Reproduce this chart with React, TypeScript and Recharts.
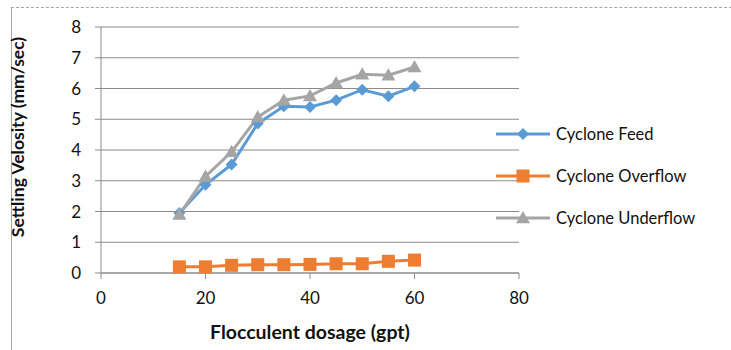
import { LineChart, Line, XAxis, YAxis, CartesianGrid } from 'recharts';

// flocculent dosage (gpt)
const dosage = [15, 20, 25, 30, 35, 40, 45, 50, 55, 60];
// settling velocity (mm/sec)
const cycloneFeed = [1.95, 2.87, 3.53, 4.86, 5.42, 5.4, 5.62, 5.96, 5.75, 6.07];
const cycloneOverflow = [0.2, 0.2, 0.25, 0.27, 0.27, 0.28, 0.3, 0.3, 0.38, 0.42];
const cycloneUnderflow = [1.9, 3.14, 3.94, 5.07, 5.62, 5.76, 6.18, 6.46, 6.43, 6.7];

const xTicks = [0, 20, 40, 60, 80];
const yTicks = [0, 1, 2, 3, 4, 5, 6, 7, 8];

const seriesNames = ['Cyclone Feed', 'Cyclone Overflow', 'Cyclone Underflow'];
const colors = ['#5B9BD5', '#ED7D31', '#A5A5A5'];

const data = dosage.map((d, i) => ({
  dosage: d,
  feed: cycloneFeed[i],
  overflow: cycloneOverflow[i],
  underflow: cycloneUnderflow[i],
}));

const FONT = 'Lato, "Open Sans", sans-serif';

const Marker = ({ kind, cx, cy, color }: any) => {
  if (cx == null || cy == null) return null;
  if (kind === 'diamond') {
    const r = 6;
    return (
      <polygon
        points={`${cx},${cy - r} ${cx + r},${cy} ${cx},${cy + r} ${cx - r},${cy}`}
        fill={color}
      />
    );
  }
  if (kind === 'square') {
    const s = 6.5;
    return <rect x={cx - s} y={cy - s} width={s * 2} height={s * 2} fill={color} />;
  }
  const r = 7;
  return (
    <polygon
      points={`${cx},${cy - r} ${cx + r},${cy + r * 0.75} ${cx - r},${cy + r * 0.75}`}
      fill={color}
    />
  );
};

const kinds = ['diamond', 'square', 'triangle'];

// 범례는 차트 밖에 직접 배치 (플롯 영역 위에 겹침)
const LegendBox = () => (
  <div
    style={{
      position: 'absolute',
      left: 494,
      top: 113,
      fontFamily: FONT,
      fontSize: 16.5,
      color: '#111',
    }}
  >
    {seriesNames.map((name, i) => (
      <div key={name} style={{ display: 'flex', alignItems: 'center', height: 42 }}>
        <svg width={62} height={16}>
          <line x1={2} y1={8} x2={56} y2={8} stroke={colors[i]} strokeWidth={3} />
          <Marker kind={kinds[i]} cx={29} cy={8} color={colors[i]} />
        </svg>
        <span>{name}</span>
      </div>
    ))}
  </div>
);

const App = () => {
  return (
    <div style={{ position: 'absolute', left: 0, top: 0, width: 731, height: 350, background: '#fff', overflow: 'hidden' }}>
      {/* frame */}
      <div
        style={{
          position: 'absolute',
          left: 11,
          top: 7,
          width: 730,
          height: 360,
          borderTop: '1px dashed #a6a6a6',
          borderLeft: '1px solid #a6a6a6',
        }}
      />
      <LineChart
        width={731}
        height={350}
        data={data}
        margin={{ top: 27, right: 212, bottom: 0, left: 0 }}
        style={{ position: 'absolute', left: 0, top: 0 }}
      >
        <CartesianGrid horizontal vertical={false} stroke='#8c8c8c' strokeWidth={1.2} />
        <XAxis
          dataKey='dosage'
          type='number'
          domain={[0, 80]}
          ticks={xTicks}
          height={77}
          stroke='#8c8c8c'
          tickSize={6}
          tickMargin={13}
          tick={{ fill: '#111', fontSize: 17, fontFamily: FONT }}
          label={{
            value: 'Flocculent dosage (gpt)',
            position: 'insideBottom',
            offset: 11,
            style: { fill: '#111', fontSize: 19.5, fontWeight: 'bold', fontFamily: FONT },
          }}
        />
        <YAxis
          type='number'
          domain={[0, 8]}
          ticks={yTicks}
          width={101}
          stroke='#8c8c8c'
          tickSize={6}
          tickMargin={14}
          tick={{ fill: '#111', fontSize: 17, fontFamily: FONT }}
          label={{
            value: 'Settling Velosity (mm/sec)',
            angle: -90,
            position: 'insideLeft',
            offset: 0,
            dx: 18,
            dy: -13,
            style: { fill: '#111', fontSize: 17.5, fontWeight: 'bold', fontFamily: FONT, textAnchor: 'middle' },
          }}
        />
        <Line
          dataKey='feed'
          name={seriesNames[0]}
          stroke={colors[0]}
          strokeWidth={3}
          dot={(p: any) => <Marker key={p.index} kind='diamond' cx={p.cx} cy={p.cy} color={colors[0]} />}
          isAnimationActive={false}
        />
        <Line
          dataKey='overflow'
          name={seriesNames[1]}
          stroke={colors[1]}
          strokeWidth={3}
          dot={(p: any) => <Marker key={p.index} kind='square' cx={p.cx} cy={p.cy} color={colors[1]} />}
          isAnimationActive={false}
        />
        <Line
          dataKey='underflow'
          name={seriesNames[2]}
          stroke={colors[2]}
          strokeWidth={3}
          dot={(p: any) => <Marker key={p.index} kind='triangle' cx={p.cx} cy={p.cy} color={colors[2]} />}
          isAnimationActive={false}
        />
      </LineChart>
      <LegendBox />
    </div>
  );
};

export default App;
